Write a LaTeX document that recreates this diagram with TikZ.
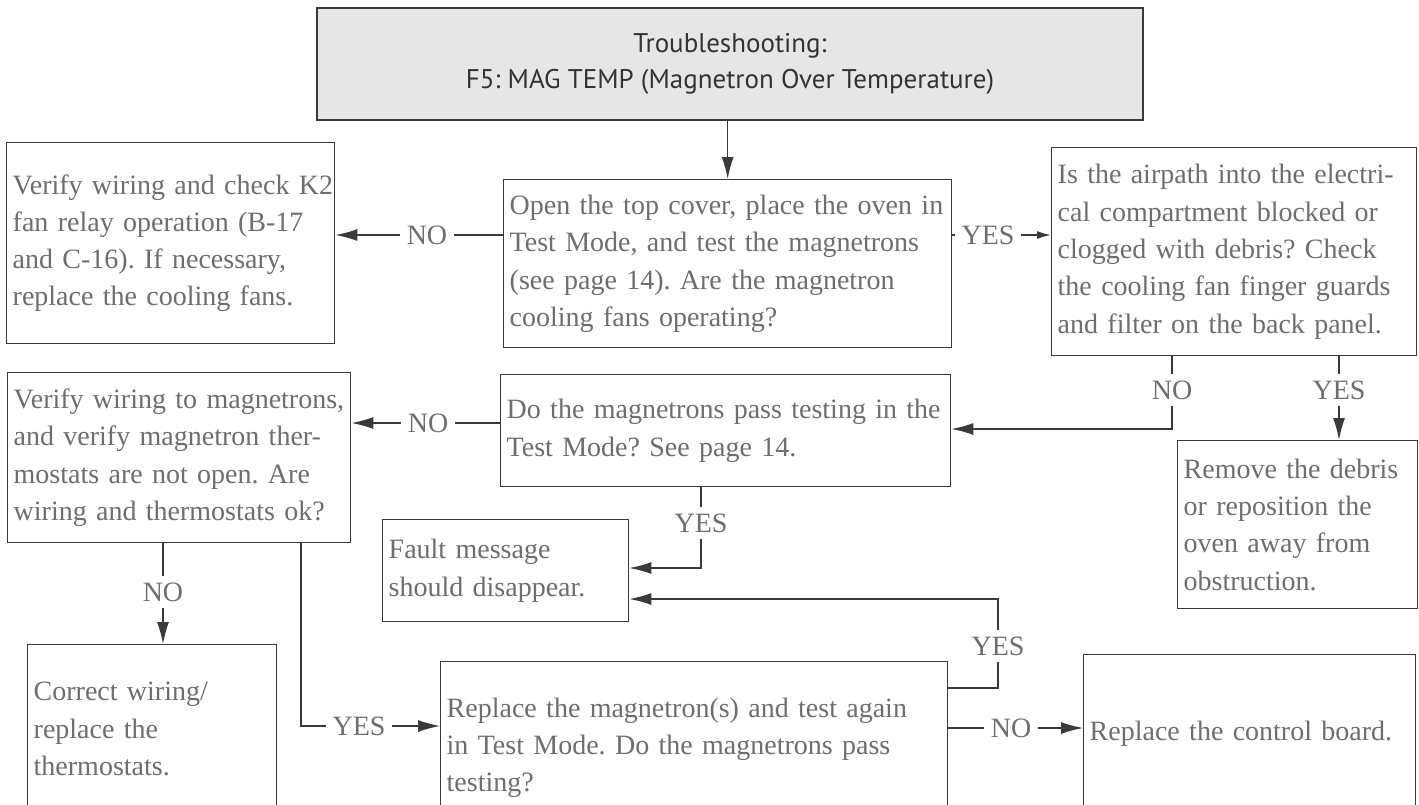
\documentclass[tikz,border=0pt]{standalone}
\usepackage{fontspec}
\setmainfont{Liberation Serif}
\newfontfamily\titlefont{PT Sans}
\usetikzlibrary{arrows.meta,calc}
\definecolor{txt}{HTML}{6E6E6E}
\definecolor{ln}{HTML}{3A3A3A}
\definecolor{ttl}{HTML}{E6E6E6}
\definecolor{ttltxt}{HTML}{333333}
\frenchspacing
\hbadness=10000 \hfuzz=5pt
\begin{document}
\begin{tikzpicture}[x=0.5pt,y=-0.5pt,
  box/.style={draw=ln, line width=0.7pt, anchor=north west, inner xsep=3pt, inner ysep=0pt,
    align=left, text=txt, font=\fontsize{14}{18.65}\selectfont},
  lbl/.style={text=txt, font=\fontsize{14}{18.65}\selectfont, inner sep=3pt},
  con/.style={draw=ln, line width=0.7pt},
  arr/.style={con, -{Latex[length=11pt,width=6pt]}},
  arrs/.style={con, -{Latex[length=7pt,width=4pt]}},
]
\useasboundingbox (0,0) rectangle (1419,804);
\clip (0,0) rectangle (1419,804);
\fill[white] (0,0) rectangle (1419,804);

% title
\node[draw=ln, line width=0.7pt, fill=ttl, minimum width=413pt, minimum height=56pt,
  align=center, text=ttltxt, font=\titlefont\fontsize{13.5}{18}\selectfont] (title) at (730,64)
  {Troubleshooting:\\F5: MAG TEMP (Magnetron Over Temperature)};

% boxes
\node[box, text width=158pt, minimum height=100.5pt] (b1) at (6,142)
  {\mbox{Verify wiring and check K2}\\fan relay operation (B-17\\and C-16). If necessary,\\replace the cooling fans.};
\node[box, text width=218pt, minimum height=84pt] (b2) at (503,179)
  {\mbox{Open the top cover, place the oven in}\\Test Mode, and test the magnetrons\\(see page 14). Are the magnetron\\cooling fans operating?};
\node[box, text width=176.5pt, minimum height=104pt] (b3) at (1051,147)
  {Is the airpath into the electri-\\cal compartment blocked or\\clogged with debris? Check\\the cooling fan finger guards\\and filter on the back panel.};
\node[box, text width=165.5pt, minimum height=85pt] (b4) at (7,372)
  {\mbox{Verify wiring to magnetrons,}\\and verify magnetron ther-\\mostats are not open. Are\\wiring and thermostats ok?};
\node[box, text width=219pt, minimum height=56pt] (b5) at (500,374)
  {\mbox{Do the magnetrons pass testing in the}\\Test Mode? See page 14.};
\node[box, text width=114pt, minimum height=84pt] (b6) at (1177,440)
  {Remove the debris\\or reposition the\\oven away from\\obstruction.};
\node[box, text width=117pt, minimum height=51pt] (fault) at (382,519)
  {Fault message\\should disappear.};
\node[box, text width=247.5pt, minimum height=86pt] (b7) at (440,661)
  {Replace the magnetron(s) and test again\\in Test Mode. Do the magnetrons pass\\testing?};
\node[box, text width=160pt, minimum height=79pt] (b8) at (1083,654)
  {Replace the control board.};
\node[box, text width=118.5pt, minimum height=84.5pt] (b9) at (27,644)
  {Correct wiring/\\replace the\\thermostats.};

% connectors
\draw[arr] (b2.north |- title.south) -- (b2.north);

\node[lbl] (l1) at (427,235) {NO};
\draw[con] (b2.west |- l1) -- (l1);
\draw[arr] (l1) -- (b1.east |- l1);

\node[lbl] (l2) at (988,235) {YES};
\draw[con] (b2.east |- l2) -- (l2);
\draw[arrs] (l2) -- (b3.west |- l2);

\node[lbl] (l3) at (1172,390) {NO};
\coordinate (c3) at (1172,429);
\draw[con] (b3.south -| l3) -- (l3);
\draw[arr] (l3) -- (c3) -- (b5.east |- c3);

\node[lbl] (l4) at (1339,390) {YES};
\draw[con] (b3.south -| l4) -- (l4);
\draw[arr] (l4) -- (b6.north -| l4);

\node[lbl] (l5) at (428,423) {NO};
\draw[con] (b5.west |- l5) -- (l5);
\draw[arr] (l5) -- (b4.east |- l5);

\node[lbl] (l6) at (701,523) {YES};
\coordinate (c6) at (701,568);
\draw[con] (b5.south -| l6) -- (l6);
\draw[arr] (l6) -- (c6) -- (fault.east |- c6);

\node[lbl] (l7) at (163,592) {NO};
\draw[con] (b4.south -| l7) -- (l7);
\draw[arr] (l7) -- (b9.north -| l7);

\coordinate (c8) at (301,726);
\node[lbl] (l8) at (359,726) {YES};
\draw[con] (b4.south -| c8) -- (c8) -- (l8);
\draw[arr] (l8) -- (b7.west |- l8);

\coordinate (c9a) at (998,688);
\node[lbl] (l9) at (998,646) {YES};
\coordinate (c9b) at (998,599);
\draw[con] (b7.east |- c9a) -- (c9a) -- (l9);
\draw[arr] (l9) -- (c9b) -- (fault.east |- c9b);

\node[lbl] (l10) at (1011,728) {NO};
\draw[con] (b7.east |- l10) -- (l10);
\draw[arr] (l10) -- (b8.west |- l10);
\end{tikzpicture}
\end{document}
